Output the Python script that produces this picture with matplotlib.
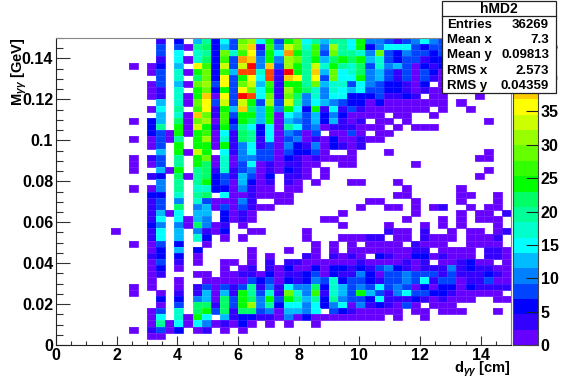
import numpy as np
import matplotlib
matplotlib.use("Agg")
import matplotlib.pyplot as plt
from matplotlib.colors import ListedColormap, BoundaryNorm
from matplotlib.patches import Rectangle
from matplotlib.ticker import MultipleLocator, FixedLocator

plt.rcParams['font.family'] = ['Liberation Sans', 'DejaVu Sans']
plt.rcParams['font.weight'] = 'bold'
plt.rcParams['mathtext.fontset'] = 'custom'
plt.rcParams['mathtext.rm'] = 'Liberation Sans:bold'
plt.rcParams['mathtext.it'] = 'Liberation Sans:italic:bold'
plt.rcParams['mathtext.bf'] = 'Liberation Sans:bold'

# bin contents, top row first (x from 1.8 to 15, step 0.3)
counts_left = [
    [0,0,0,0,0,3,0,6,0,13,20,6,15,8,29,31,15,24,8,24,29,15,20],
    [0,0,0,0,0,8,0,8,1,20,22,6,13,8,31,38,3,26,10,33,29,17,26],
    [0,0,0,0,0,8,0,15,0,17,20,6,29,17,26,36,8,24,15,40,24,20,26],
    [0,0,0,0,0,3,0,15,1,17,22,6,26,8,40,38,10,24,10,31,29,20,24],
    [0,0,1,0,1,6,0,13,0,36,26,6,33,8,33,45,10,38,8,31,24,20,33],
    [0,0,0,0,1,8,0,17,1,24,29,6,26,13,43,43,17,43,3,45,24,20,38],
    [0,0,0,0,0,8,0,17,0,22,29,6,36,8,24,36,15,43,3,38,36,20,36],
    [0,0,0,0,1,8,0,13,1,29,31,8,36,8,29,33,13,26,3,24,24,20,29],
    [0,0,0,0,1,3,0,17,0,24,29,6,24,8,36,29,15,24,3,31,24,22,17],
    [0,0,0,0,1,3,0,17,1,24,38,1,36,8,45,43,15,29,3,29,22,10,17],
    [0,0,0,0,0,13,0,17,1,29,36,8,33,8,33,24,8,31,8,33,20,10,15],
    [0,0,0,0,1,15,0,20,0,26,36,3,24,13,38,22,13,24,10,24,15,6,24],
    [0,0,0,0,0,13,0,17,1,38,29,3,26,8,24,24,13,24,1,15,13,8,13],
    [0,0,1,0,6,13,0,22,1,29,31,1,26,6,24,22,13,24,1,13,10,8,13],
    [0,0,0,0,6,20,0,24,1,33,24,3,24,8,20,15,6,15,1,20,15,8,10],
    [0,0,0,0,6,8,1,24,1,24,26,1,15,3,22,20,6,15,1,10,8,1,8],
    [0,0,1,0,1,8,1,20,0,24,31,1,17,3,22,20,3,15,1,8,10,1,3],
    [0,0,0,0,1,8,0,24,0,24,24,1,24,3,10,15,3,8,1,10,6,3,10],
    [0,0,0,0,0,13,0,24,1,33,24,0,15,3,10,15,8,8,1,8,6,6,8],
    [0,0,1,0,3,8,0,20,0,24,29,1,17,1,10,10,8,8,1,6,3,1,3],
    [0,0,1,0,1,8,0,20,0,24,22,1,17,1,8,15,1,3,1,3,3,1,1],
    [0,0,1,0,0,13,1,24,0,20,22,3,17,3,8,10,1,3,1,6,3,1,0],
    [0,0,0,0,3,6,0,22,1,20,22,6,8,3,13,8,1,6,0,3,3,1,0],
    [0,0,0,0,0,10,0,20,0,20,24,6,8,1,13,6,1,3,0,3,1,0,1],
    [0,0,1,0,1,10,0,20,0,17,17,6,6,1,10,3,1,1,0,1,1,0,0],
    [0,0,0,0,6,6,0,17,0,20,22,0,15,1,1,3,1,1,1,1,0,0,0],
    [0,0,0,0,3,8,0,10,0,17,8,1,1,1,10,3,0,0,1,1,0,0,0],
    [0,0,0,0,3,8,0,22,0,10,13,1,8,1,8,3,1,1,0,0,0,0,0],
    [0,0,0,0,3,13,1,15,0,13,13,0,6,1,3,1,0,0,0,0,0,0,0],
    [0,0,0,0,3,15,0,15,1,13,10,0,6,1,3,1,0,0,0,0,0,0,0],
    [0,0,0,0,6,10,0,10,1,22,10,1,3,0,1,0,0,0,0,0,0,0,0],
    [1,0,0,0,3,15,0,13,0,10,3,1,6,0,0,1,1,0,0,0,0,1,0],
    [0,0,0,0,3,15,0,13,0,17,6,0,1,0,1,0,0,0,0,0,0,1,0],
    [0,0,1,0,1,8,0,6,0,0,1,0,0,0,0,0,0,0,0,0,0,0,1],
    [0,0,0,0,1,6,0,13,0,6,0,0,0,0,0,1,0,0,0,1,0,0,1],
    [0,0,0,0,3,6,0,6,0,1,0,0,0,0,0,1,0,1,0,0,0,3,1],
    [0,0,0,0,1,8,0,3,0,1,0,0,1,1,0,1,0,3,0,3,3,1,1],
    [0,0,0,0,1,6,0,1,0,0,0,0,1,0,1,3,0,3,1,6,1,1,6],
    [0,0,0,0,1,3,0,0,0,1,1,0,1,1,3,3,1,6,1,3,3,6,8],
    [0,0,0,0,1,0,0,1,0,0,1,1,1,1,1,8,6,8,1,6,3,6,10],
    [0,0,1,0,1,0,0,1,0,3,8,1,8,3,8,20,3,10,3,15,10,10,22],
    [0,0,1,0,0,1,0,3,0,3,13,1,13,3,24,20,8,17,3,29,17,10,26],
    [0,0,0,0,0,6,0,6,0,10,13,1,22,8,24,22,10,24,8,24,20,13,20],
    [0,0,0,0,0,1,0,8,0,22,22,3,22,8,24,31,10,20,6,15,15,10,15],
    [0,0,0,0,1,8,0,17,0,22,24,8,22,3,22,22,8,10,1,13,13,10,15],
    [0,0,0,0,1,15,0,17,1,24,15,0,13,3,6,6,3,3,1,10,1,6,1],
    [0,0,0,0,1,20,1,15,1,15,10,1,3,1,6,1,0,1,0,1,0,0,1],
    [0,0,1,0,3,8,1,6,0,1,3,0,1,0,1,0,0,0,0,0,0,0,0],
    [0,0,0,0,1,1,0,0,0,0,0,0,0,0,0,0,0,0,0,0,0,0,0],
    [0,0,0,0,0,0,0,0,0,0,0,0,0,0,0,0,0,0,0,0,0,0,0],
]

counts_right = [
    [13,20,20,15,24,10,10,8,3,8,10,15,10,8,0,0,0,0,0,0,0],
    [10,31,20,15,24,6,10,15,15,15,8,6,8,8,0,0,0,0,0,0,0],
    [8,29,20,20,17,10,29,8,6,10,8,8,6,8,0,0,0,0,0,0,0],
    [13,22,24,22,24,13,17,8,6,8,8,3,6,6,0,0,0,0,0,0,0],
    [17,24,20,17,22,8,17,10,13,8,1,6,3,6,0,0,0,0,0,0,0],
    [13,29,15,17,22,10,13,8,3,8,1,8,6,1,0,0,0,0,0,0,0],
    [8,29,15,15,24,10,13,8,3,8,1,8,3,1,0,0,0,0,0,0,0],
    [13,17,17,8,15,10,8,6,6,3,1,6,0,1,0,0,0,0,0,0,0],
    [10,17,15,13,15,8,8,6,6,3,1,3,1,1,0,0,0,0,0,0,0],
    [10,15,15,6,6,6,8,3,3,6,3,0,1,1,0,0,0,1,0,0,0],
    [13,10,8,6,6,1,6,1,1,1,1,1,1,1,0,1,0,0,0,0,0],
    [3,15,3,8,3,1,1,1,1,1,1,1,0,1,0,0,1,0,0,0,0],
    [6,10,6,1,1,1,1,0,1,1,0,0,1,0,0,0,0,0,0,0,0],
    [6,13,3,1,3,0,1,1,0,1,0,0,0,0,0,0,0,0,1,0,0],
    [1,3,3,3,1,1,1,0,1,0,1,1,1,0,0,0,0,0,0,0,0],
    [0,1,1,8,1,0,1,1,0,0,0,0,0,0,0,0,0,0,0,0,0],
    [1,6,1,1,3,1,1,0,0,0,0,0,0,0,0,0,0,0,0,0,0],
    [1,6,3,1,3,0,0,0,0,0,0,0,0,0,0,0,0,0,0,0,0],
    [1,0,0,1,0,0,0,1,0,0,0,0,0,0,0,0,0,0,1,0,0],
    [1,1,1,1,0,0,0,0,0,0,0,0,0,0,0,0,0,1,1,0,0],
    [0,0,1,1,0,0,0,0,0,0,1,0,0,0,0,0,0,0,0,0,0],
    [1,0,0,0,0,0,0,0,0,0,0,0,0,0,0,0,0,0,1,0,0],
    [1,0,0,0,0,0,0,0,0,0,0,0,0,0,0,0,0,1,0,0,0],
    [0,0,0,1,1,0,0,0,1,0,0,0,0,0,0,0,0,0,0,0,0],
    [0,0,0,0,0,0,0,0,0,1,0,0,0,0,0,1,0,0,0,0,0],
    [0,0,0,0,0,0,0,0,1,1,0,0,0,0,0,1,1,0,0,1,0],
    [0,0,0,0,0,1,1,0,0,0,1,0,0,0,0,1,0,0,0,1,0],
    [0,0,0,0,1,0,0,1,1,0,1,0,1,3,0,0,1,0,1,1,0],
    [0,0,1,0,0,0,0,0,0,0,1,0,0,0,0,1,0,1,1,0,3],
    [1,1,0,0,0,0,0,0,0,1,0,0,0,1,0,1,0,1,1,1,0],
    [0,0,1,0,0,0,0,1,0,0,0,1,0,1,0,1,0,0,0,1,0],
    [0,0,0,0,0,0,0,3,1,1,0,3,0,0,1,0,1,1,0,1,3],
    [0,0,1,1,1,3,3,0,1,1,0,3,1,1,1,0,1,1,1,3,0],
    [0,1,0,1,0,1,1,1,1,0,3,1,1,1,0,0,1,1,1,1,0],
    [0,1,0,1,1,1,1,1,1,1,3,3,0,1,1,1,1,0,3,3,1],
    [0,3,1,3,1,0,6,3,1,1,6,6,1,3,1,1,1,0,3,3,1],
    [1,1,1,1,3,1,1,1,1,3,1,3,0,1,1,3,6,1,1,0,1],
    [1,6,6,3,6,3,8,10,6,3,1,3,3,3,10,3,6,3,3,1,1],
    [1,6,3,3,10,6,1,8,8,10,8,8,8,3,8,3,3,3,6,3,1],
    [8,17,6,8,8,6,3,8,8,10,8,15,3,8,8,1,3,3,8,1,1],
    [6,17,13,8,10,8,15,8,10,8,1,6,1,6,6,1,6,3,3,3,3],
    [3,17,13,8,24,13,8,3,10,15,8,8,6,6,3,1,1,1,1,1,0],
    [6,20,10,8,8,6,15,3,3,3,6,3,1,3,1,1,1,0,0,1,1],
    [6,10,15,1,10,3,6,3,1,8,1,0,1,1,1,0,0,0,0,0,0],
    [0,8,6,3,1,1,1,1,1,0,1,1,0,1,1,1,0,0,0,1,0],
    [1,1,1,1,1,1,1,0,1,0,0,1,0,0,0,0,0,0,0,0,0],
    [0,0,0,0,0,0,0,0,0,0,0,0,0,0,0,0,0,0,0,0,0],
    [0,0,0,0,0,0,0,0,0,0,0,0,0,0,0,0,0,0,0,0,0],
    [0,0,0,0,0,0,0,0,0,0,0,0,0,0,0,0,0,0,0,0,0],
    [0,0,0,0,0,0,0,0,0,0,0,0,0,0,0,0,0,0,0,0,0],
]

palette = ['#6600ff', '#3300ff', '#0000ff', '#0044ff', '#0080ff',
           '#00bbff', '#00ffff', '#00ffcc', '#00ff99', '#00ff66',
           '#00ff00', '#33ff00', '#66ff00', '#99ff00', '#ccff00',
           '#ffff00', '#ffcc00', '#ff9900', '#ff4400', '#ff0000']
zmax = 46.0
stat_names = ['Entries', 'Mean x', 'Mean y', 'RMS x', 'RMS y']
stat_values = ['36269', '7.3', '0.09813', '2.573', '0.04359']

W, H = 567.0, 384.0
dark = '#333333'

counts = np.ma.masked_equal(np.hstack([counts_left, counts_right]), 0)
x_edges = np.linspace(1.8, 15, 45)
y_edges = np.linspace(0.15, 0, 51)
levels = np.linspace(0, zmax, 21)
cmap = ListedColormap(palette)
norm = BoundaryNorm(levels, cmap.N)

fig = plt.figure(figsize=(5.67, 3.84), dpi=100)
ax = fig.add_axes([56/W, 1-345/H, 455/W, 307/H])
# thin pale edges give the soft cell borders of the original
ax.pcolormesh(x_edges, y_edges, counts, cmap=cmap, norm=norm,
              edgecolors=(1, 1, 1, 0.1), linewidth=0.4)
ax.set_xlim(0, 15)
ax.set_ylim(0, 0.15)
ax.xaxis.set_major_locator(MultipleLocator(2))
ax.xaxis.set_minor_locator(MultipleLocator(0.5))
ax.yaxis.set_major_locator(FixedLocator([0, 0.02, 0.04, 0.06, 0.08, 0.1, 0.12, 0.14]))
ax.yaxis.set_minor_locator(MultipleLocator(0.005))
ax.set_yticklabels(['0', '0.02', '0.04', '0.06', '0.08', '0.1', '0.12', '0.14'])
ax.tick_params(axis='x', which='major', direction='in', length=6.5, width=0.8, color=dark, labelsize=11.5, pad=2.5)
ax.tick_params(axis='x', which='minor', direction='in', length=3.2, width=0.8, color=dark)
ax.tick_params(axis='y', which='major', direction='in', length=10, width=0.8, color=dark, labelsize=11.5, pad=2)
ax.tick_params(axis='y', which='minor', direction='in', length=5, width=0.8, color=dark)
for s in ['top', 'right']:
    ax.spines[s].set_color('#888888')
for s in ['left', 'bottom']:
    ax.spines[s].set_color('#222222')

fig.text(511/W, 1-369/H, r'd$_{\gamma\gamma}$ [cm]', ha='right', va='center', fontsize=10.5)
fig.text(19/W, 1-38/H, r'M$_{\gamma\gamma}$ [GeV]', ha='center', va='top', rotation=90, fontsize=10.5)

# palette bar
cax = fig.add_axes([513/W, 1-345/H, 25/W, 307/H])
cax.pcolormesh([0, 1], levels, np.arange(20).reshape(-1, 1), cmap=cmap, vmin=-0.5, vmax=19.5)
cax.set_xlim(0, 1)
cax.set_ylim(0, zmax)
cax.set_xticks([])
cax.yaxis.tick_right()
cax.set_yticks(np.arange(0, 46, 5))
cax.tick_params(axis='y', direction='in', length=9, width=0.8, color='#222222', labelsize=11.5, pad=2)
for s in cax.spines.values():
    s.set_color('#444444')

# stats box
fig.add_artist(Rectangle((442/W, 1-93/H), 114/W, 92/H, transform=fig.transFigure,
                         facecolor='white', edgecolor='#222222', linewidth=0.9, zorder=10))
fig.add_artist(plt.Line2D([442/W, 556/W], [1-16/H, 1-16/H], color='#222222', linewidth=0.9, zorder=11))
fig.text(499/W, 1-9/H, 'hMD2', ha='center', va='center', fontsize=10, zorder=12)
row_y = [25, 40, 55, 71, 86]
for name, val, y in zip(stat_names, stat_values, row_y):
    fig.text(447/W, 1-y/H, name, ha='left', va='center', fontsize=9.5, zorder=12)
    fig.text(549/W, 1-y/H, val, ha='right', va='center', fontsize=9.5, zorder=12)

fig.savefig('out.png', dpi=100)
